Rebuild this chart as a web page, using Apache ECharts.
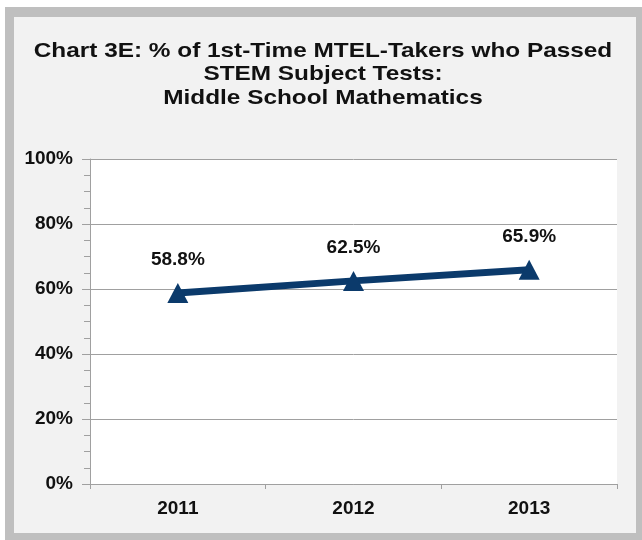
<!DOCTYPE html>
<html><head><meta charset="utf-8">
<script src="https://cdn.jsdelivr.net/npm/echarts@6/dist/echarts.min.js"></script>
<style>html,body{margin:0;padding:0;background:#fff}#c{width:642px;height:540px}</style>
</head><body><div id="c"></div>
<script>
const years = ['2011', '2012', '2013'];
const passRates = [58.8, 62.5, 65.9];
const titleLines = ['Chart 3E: % of 1st-Time MTEL-Takers who Passed', 'STEM Subject Tests:', 'Middle School Mathematics'];

const chart = echarts.init(document.getElementById('c'), null, {renderer: 'canvas'});
const font = 'Liberation Sans, Arial, sans-serif';
chart.setOption({
  animation: false,
  backgroundColor: '#ffffff',
  graphic: [
    {type: 'rect', z: -10, silent: true, shape: {x: 5, y: 7, width: 637, height: 533}, style: {fill: '#bfbfbf'}},
    {type: 'rect', z: -9, silent: true, shape: {x: 14, y: 17, width: 622, height: 516}, style: {fill: '#f2f2f2'}},
    {type: 'text', silent: true, x: 323, y: 39, scaleX: 1.16, scaleY: 1,
      style: {text: titleLines.join('\n'), x: 0, y: 0, textAlign: 'center', textVerticalAlign: 'top',
        fontFamily: font, fontWeight: 'bold', fontSize: 21, lineHeight: 23.5, fill: '#111'}}
  ],
  grid: {left: 90, right: 25, top: 159, bottom: 56, show: true, backgroundColor: '#ffffff', borderWidth: 0},
  xAxis: {
    type: 'category', data: years, boundaryGap: true,
    axisLine: {lineStyle: {color: '#a0a0a0', width: 1}},
    axisTick: {show: true, length: 5, lineStyle: {color: '#a0a0a0'}},
    axisLabel: {fontFamily: font, fontWeight: 'bold', fontSize: 19, color: '#111', margin: 15}
  },
  yAxis: {
    type: 'value', min: 0, max: 100, interval: 20,
    axisLine: {show: true, lineStyle: {color: '#a0a0a0'}},
    axisTick: {show: true, length: 8, lineStyle: {color: '#a0a0a0'}},
    minorTick: {show: true, splitNumber: 4, length: 6, lineStyle: {color: '#a0a0a0'}},
    splitLine: {lineStyle: {color: '#a0a0a0', width: 1}},
    axisLabel: {formatter: '{value}%', fontFamily: font, fontWeight: 'bold', fontSize: 19, color: '#111', margin: 17}
  },
  series: [{
    type: 'line', data: passRates,
    symbol: 'triangle', symbolSize: [21, 20],
    lineStyle: {color: '#0b3a6b', width: 7},
    itemStyle: {color: '#0b3a6b'},
    label: {show: true, position: 'top', distance: 14, formatter: p => p.value.toFixed(1) + '%',
      fontFamily: font, fontWeight: 'bold', fontSize: 19, color: '#111'}
  }]
});
</script></body></html>
